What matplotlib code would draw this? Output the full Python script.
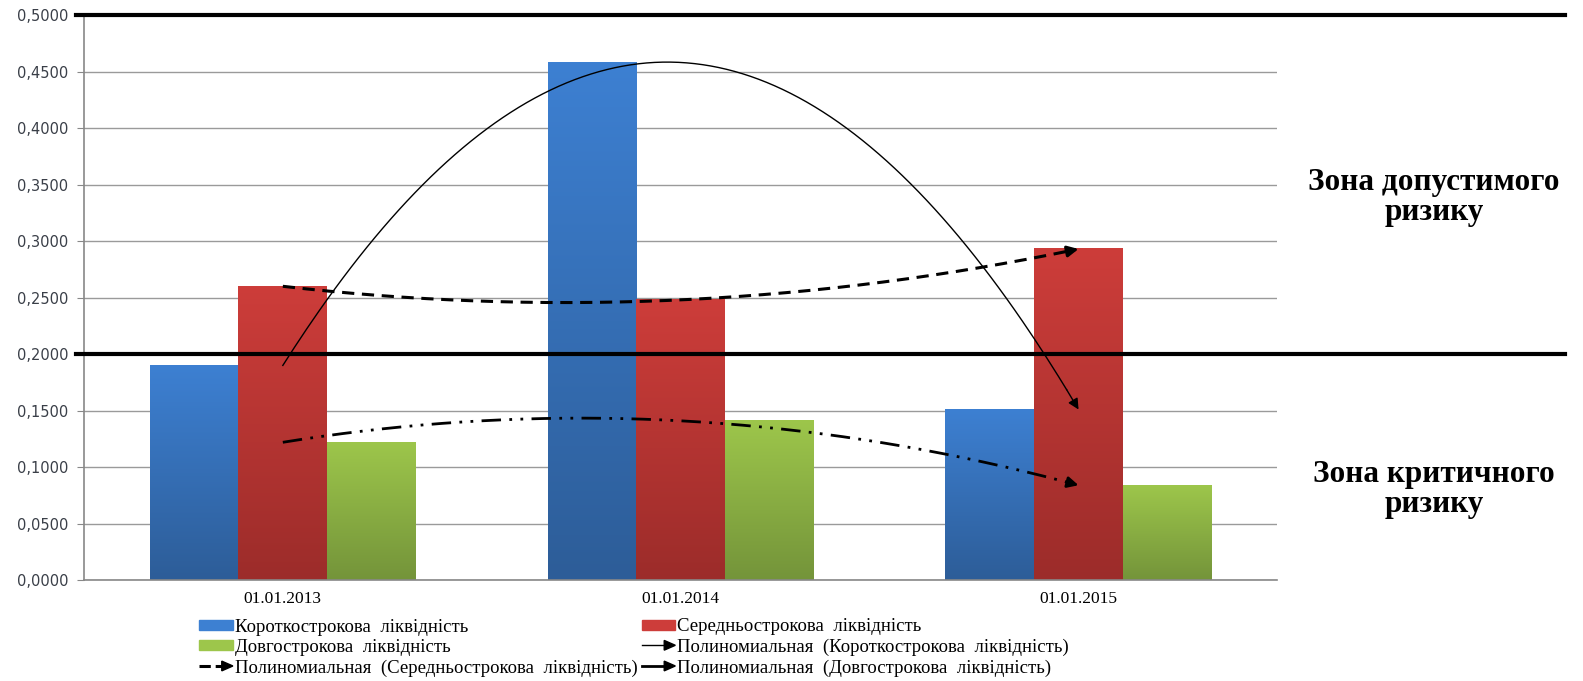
import matplotlib
matplotlib.use("Agg")
import matplotlib.pyplot as plt
import numpy as np
from matplotlib.colors import LinearSegmentedColormap
from matplotlib.legend_handler import HandlerBase
from matplotlib.lines import Line2D
from matplotlib.patches import Patch, Polygon

# liquidity ratios by date
dates = ["01.01.2013", "01.01.2014", "01.01.2015"]
short_term = [0.190, 0.458, 0.151]
mid_term = [0.260, 0.248, 0.293]
long_term = [0.122, 0.141, 0.084]

series_names = ["Короткострокова  ліквідність",
                "Середньострокова  ліквідність",
                "Довгострокова  ліквідність"]
trend_prefix = "Полиномиальная  "
zone_upper = "Зона допустимого\nризику"
zone_lower = "Зона критичного\nризику"
risk_levels = [0.2, 0.5]

# top / bottom colours of the gradient fill
grad_colors = [("#3d80d2", "#2d5d98"), ("#cd3d3a", "#9c2c2a"), ("#9dc64b", "#74943a")]

SERIF = "Liberation Serif"


class ArrowLineHandler(HandlerBase):
    # legend key: a line ending in a filled arrow head
    def create_artists(self, legend, orig_handle, xdescent, ydescent,
                       width, height, fontsize, trans):
        y = height / 2 - ydescent
        x0, x1 = -xdescent, width - xdescent
        line = Line2D([x0, x1 - 6], [y, y], color="black",
                      lw=orig_handle.get_linewidth(), ls=orig_handle.get_linestyle())
        head = Polygon([[x1 - 8, y - 3.5], [x1, y], [x1 - 8, y + 3.5]],
                       closed=True, color="black")
        line.set_transform(trans)
        head.set_transform(trans)
        return [line, head]


fig = plt.figure(figsize=(15.83, 6.81), dpi=100)
ax = fig.add_axes([0.053, 0.148, 0.754, 0.830])

x = np.arange(len(dates))
width = 0.223
offsets = [-width, 0, width]
all_series = [short_term, mid_term, long_term]

for vals, off, (c_top, c_bot) in zip(all_series, offsets, grad_colors):
    bars = ax.bar(x + off, vals, width, color=c_top, zorder=2)
    cmap = LinearSegmentedColormap.from_list("g", [c_bot, c_top])
    grad = np.linspace(0, 1, 256).reshape(-1, 1)
    for b in bars:
        x0, w, h = b.get_x(), b.get_width(), b.get_height()
        ax.imshow(grad, cmap=cmap, origin="lower", aspect="auto",
                  extent=[x0, x0 + w, 0, h], zorder=2.1)

# quadratic trend lines (exact fit through three points)
xs = np.linspace(0, 2, 200)
trend_styles = [
    dict(color="black", lw=1.0, ls="-"),
    dict(color="black", lw=2.2, ls=(0, (4, 2.5))),
    dict(color="black", lw=2.0, ls=(0, (7, 3, 1, 3, 1, 3))),
]
for vals, st in zip(all_series, trend_styles):
    coef = np.polyfit(x, vals, 2)
    ys = np.polyval(coef, xs)
    ax.plot(xs[:-3], ys[:-3], zorder=4, **st)
    ax.annotate("", xy=(xs[-1], ys[-1]), xytext=(xs[-4], ys[-4]), zorder=5,
                arrowprops=dict(arrowstyle="-|>", color="black", lw=st["lw"],
                                mutation_scale=16, shrinkA=0, shrinkB=0))

# risk boundaries run past the plot area into the zone captions
for lvl in risk_levels:
    ax.axhline(lvl, xmin=-0.007, xmax=1.241, color="black", lw=3, clip_on=False, zorder=6)

ax.set_xlim(-0.5, 2.5)
ax.set_ylim(0, 0.5)
ticks = np.arange(0, 0.5001, 0.05)
ax.set_yticks(ticks)
ax.set_yticklabels([f"{v:.4f}".replace(".", ",") for v in ticks],
                   fontsize=10.5, color="#3a3f48")
ax.set_xticks(x)
ax.set_xticklabels(dates, fontsize=12.5, family=SERIF)
ax.tick_params(axis="x", length=0, pad=8)
ax.tick_params(axis="y", length=5, color="#888888", pad=6)
ax.grid(axis="y", color="#9a9a9a", lw=1, zorder=0)
ax.set_axisbelow(True)
for s in ["top", "right"]:
    ax.spines[s].set_visible(False)
for s in ["left", "bottom"]:
    ax.spines[s].set_color("#888888")
    ax.spines[s].set_linewidth(1.2)

fig.text(0.906, 0.71, zone_upper, ha="center", va="center", fontsize=22.5,
         fontweight="bold", family=SERIF, linespacing=1.05)
fig.text(0.906, 0.281, zone_lower, ha="center", va="center", fontsize=22.5,
         fontweight="bold", family=SERIF, linespacing=1.05)

# legend: two columns placed independently
trend_keys = [Line2D([], [], **st) for st in trend_styles]
legend_kw = dict(loc="lower left", frameon=False, prop={"family": SERIF, "size": 13.5},
                 handlelength=1.8, handleheight=0.45, handletextpad=0.1,
                 labelspacing=0.18, borderpad=0.2,
                 handler_map={Line2D: ArrowLineHandler()})
fig.legend(
    [Patch(color=grad_colors[0][0]), Patch(color=grad_colors[2][0]), trend_keys[1]],
    [series_names[0], series_names[2], trend_prefix + "(" + series_names[1] + ")"],
    bbox_to_anchor=(0.1175, -0.013), **legend_kw)
fig.legend(
    [Patch(color=grad_colors[1][0]), trend_keys[0],
     Line2D([], [], color="black", lw=2.0, ls="-")],
    [series_names[1], trend_prefix + "(" + series_names[0] + ")",
     trend_prefix + "(" + series_names[2] + ")"],
    bbox_to_anchor=(0.397, -0.013), **legend_kw)

fig.savefig("out.png", dpi=100)
